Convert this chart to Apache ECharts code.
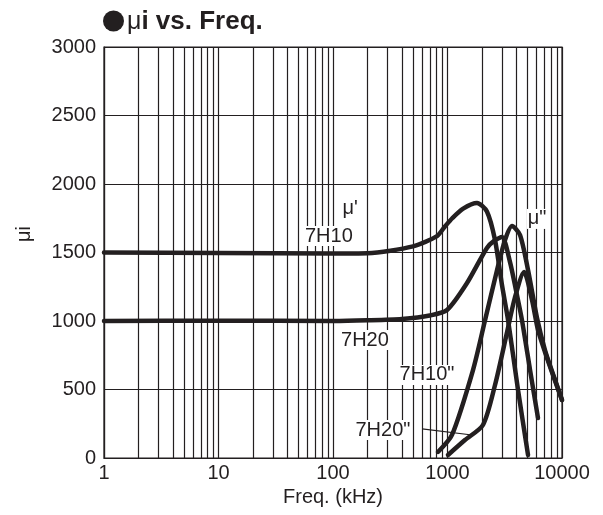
<!DOCTYPE html>
<html><head><meta charset="utf-8">
<script src="https://cdn.jsdelivr.net/npm/echarts@6/dist/echarts.min.js"></script>
<style>html,body{margin:0;padding:0;background:#fff}#c{width:603px;height:515px}</style>
</head><body><div id="c"></div>
<script>
// ---- data ----
const xTickLabels = ['1', '10', '100', '1000', '10000'];
const yTickLabels = ['0', '500', '1000', '1500', '2000', '2500', '3000'];

// 7H10 mu' (real part)
const freq7H10re = [1, 10, 100, 200, 500, 810, 950, 1100, 1370, 1810, 2210, 2600, 2990, 3380, 4130, 5050];
const mu7H10re   = [1500, 1497, 1492, 1494, 1545, 1620, 1690, 1750, 1820, 1861, 1800, 1591, 1263, 1007, 496, 22];

// 7H20 mu' (real part)
const freq7H20re = [1, 10, 100, 200, 400, 700, 990, 1480, 2210, 2600, 2990, 3515, 3960, 4470, 5260, 6170];
const mu7H20re   = [1000, 1002, 1000, 1005, 1015, 1040, 1080, 1277, 1533, 1590, 1613, 1430, 1226, 1007, 642, 292];

// 7H10 mu'' (imaginary part)
const freq7H10im = [826, 1094, 1670, 2130, 2710, 3180, 3660, 4300, 5050, 6050, 7100, 8400, 10000];
const mu7H10im   = [44, 168, 642, 1007, 1372, 1591, 1693, 1628, 1372, 1022, 788, 606, 423];

// 7H20 mu'' (imaginary part)
const freq7H20im = [1010, 1420, 2040, 2600, 3300, 3870, 4660, 5470, 6170, 7100, 8400, 10000];
const mu7H20im   = [22, 131, 241, 533, 912, 1168, 1358, 1153, 934, 774, 599, 423];

// annotations in data coordinates [freq, value]
const annoTexts = ["\u03bc'", '7H10', '7H20', '7H10"', '7H20"', '\u03bc"'];
const annoPos   = [[141, 1818], [92, 1620], [190, 861], [662, 606], [273, 204], [6050, 1745]];
const leaderFrom = [600, 212];
const leaderTo   = [1637, 168];

// ---- chart ----
const ink = '#231f20';
const FONT = 'Liberation Sans, Arial, Helvetica, sans-serif';
const chart = echarts.init(document.getElementById('c'), null, {renderer: 'canvas'});
const pairs = (xs, ys) => xs.map((x, i) => [x, ys[i]]);
const minorX = [];
for (let d = 1; d <= 1000; d *= 10) for (let m = 2; m <= 9; m++) minorX.push(m * d);

const curve = (name, xs, ys) => ({
  name, type: 'line', data: pairs(xs, ys), smooth: 0.25, showSymbol: false, symbol: 'none',
  lineStyle: {color: ink, width: 4.5, cap: 'round', join: 'round'}, z: 5, silent: true
});

const option = {
  animation: false,
  backgroundColor: '#fff',
  grid: {left: 104, top: 47, width: 458, height: 411, show: true, borderColor: ink, borderWidth: 1.2, backgroundColor: 'transparent'},
  xAxis: {
    type: 'log', logBase: 10, min: 1, max: 10000, splitNumber: 4,
    axisLine: {show: true, lineStyle: {color: ink, width: 1.2}},
    axisTick: {show: false},
    splitLine: {show: true, lineStyle: {color: ink, width: 1.2}},
    axisLabel: {color: ink, fontSize: 20, fontFamily: FONT, margin: 5,
      formatter: v => xTickLabels[Math.round(Math.log10(v))]},
    name: 'Freq. (kHz)', nameLocation: 'middle', nameGap: 28,
    nameTextStyle: {color: ink, fontSize: 20, fontFamily: FONT}
  },
  yAxis: {
    type: 'value', min: 0, max: 3000, interval: 500,
    axisLine: {show: true, lineStyle: {color: ink, width: 1.2}},
    axisTick: {show: false},
    splitLine: {show: true, lineStyle: {color: ink, width: 1.2}},
    axisLabel: {color: ink, fontSize: 20, fontFamily: FONT, margin: 8,
      formatter: v => yTickLabels[Math.round(v / 500)]}
  },
  series: [
    {type: 'line', data: [], silent: true, z: 1,
      markLine: {silent: true, symbol: 'none', label: {show: false}, animation: false,
        lineStyle: {color: ink, width: 1.2, type: 'solid'},
        data: minorX.map(v => ({xAxis: v}))}},
    curve("7H10 mu'", freq7H10re, mu7H10re),
    curve("7H20 mu'", freq7H20re, mu7H20re),
    curve('7H10 mu"', freq7H10im, mu7H10im),
    curve('7H20 mu"', freq7H20im, mu7H20im)
  ]
};
chart.setOption(option);

const g = [];
// title
g.push({type: 'circle', shape: {cx: 113.5, cy: 21, r: 10.5}, style: {fill: ink}, z: 100});
g.push({type: 'text', x: 127, y: 22, z: 100, style: {
  text: '{m|\u03bc}{b|i vs. Freq.}', verticalAlign: 'middle', align: 'left',
  rich: {m: {fontSize: 25, fontFamily: FONT, fill: ink}, b: {fontSize: 26, fontWeight: 'bold', fontFamily: FONT, fill: ink}}
}});
// y axis name
g.push({type: 'text', x: 24, y: 234, rotation: Math.PI / 2, z: 100, style: {
  text: '\u03bci', fontSize: 20, fontFamily: FONT, fill: ink, align: 'center', verticalAlign: 'middle'}});
// annotations
annoTexts.forEach((t, i) => {
  const p = chart.convertToPixel({gridIndex: 0}, annoPos[i]);
  g.push({type: 'text', x: p[0], y: p[1], z: 100, style: {
    text: t, fontSize: 20, fontFamily: FONT, fill: ink, align: 'center', verticalAlign: 'middle',
    backgroundColor: '#fff', padding: [0, 1]}});
});
const a = chart.convertToPixel({gridIndex: 0}, leaderFrom);
const b = chart.convertToPixel({gridIndex: 0}, leaderTo);
g.push({type: 'line', shape: {x1: a[0], y1: a[1], x2: b[0], y2: b[1]}, style: {stroke: ink, lineWidth: 1.2}, z: 90});
chart.setOption({graphic: g});
</script>
</body></html>
